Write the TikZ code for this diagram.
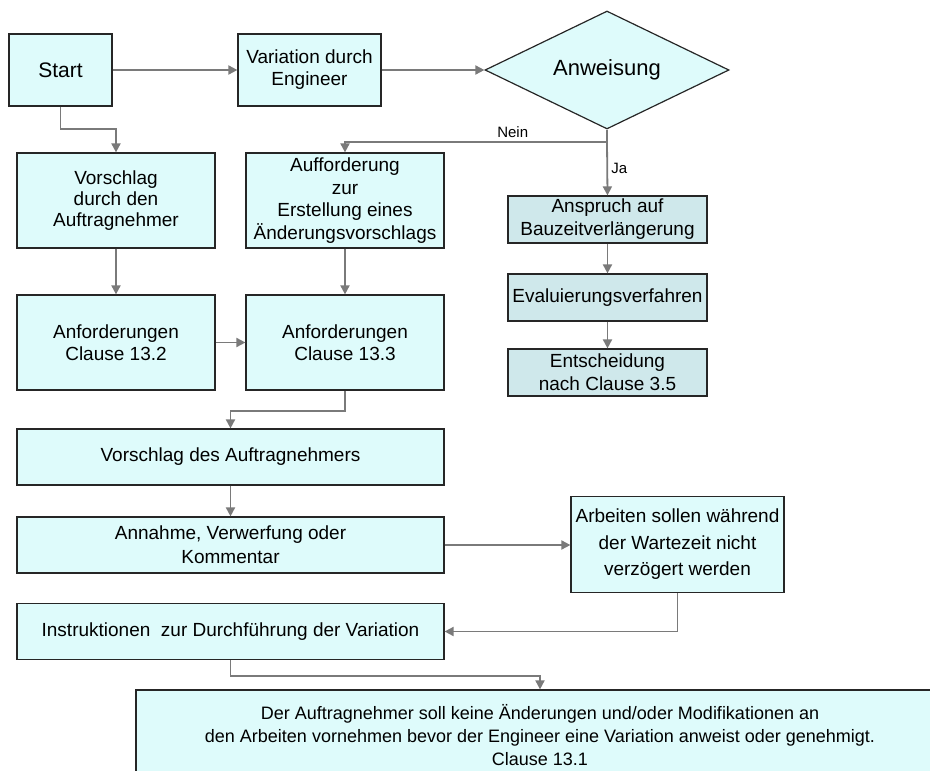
\documentclass[tikz,border=0pt]{standalone}
\usepackage{fontspec}
\setmainfont{Liberation Sans}
\usetikzlibrary{shapes.geometric, arrows.meta, positioning}
\definecolor{boxcyan}{RGB}{222,251,251}
\definecolor{boxgrey}{RGB}{207,232,235}
\definecolor{linegrey}{RGB}{122,122,122}
\tikzset{
	flowbox/.style={draw=black!85, line width=1.2pt, fill=boxcyan, inner sep=0pt,
			align=center, font=\fontsize{19}{22}\selectfont}
}
\tikzset{
	greybox/.style={flowbox, fill=boxgrey, minimum width=199, minimum height=47}
}
\tikzset{
	flowarrow/.style={draw=linegrey, line width=1.8pt, -{Triangle[length=9pt,width=9pt]}}
}
\tikzset{
	branchtext/.style={font=\fontsize{15}{18}\selectfont}
}
\begin{document}
\begin{tikzpicture}[x=1pt, y=-1pt]

			\clip (0,0) rectangle (930,771);

			\begin{scope}
				\node[flowbox, minimum width=103, minimum height=72, font=\fontsize{21}{24}\selectfont]
				(start) at (60.5,70) {Start};
				\node[flowbox, minimum width=143, minimum height=72]
				(variation) at (309.5,70) {Variation durch\\Engineer};
				\node[flowbox, diamond, aspect=2.07, minimum width=244, minimum height=118,
					font=\fontsize{22}{26}\selectfont]
				(anweisung) at (607,70) {Anweisung};
			\end{scope}

			\begin{scope}
				\node[flowbox, minimum width=198, minimum height=95, font=\fontsize{19}{21}\selectfont]
				(vorschlag) at (116,200.5) {Vorschlag\\durch den\\Auftragnehmer};
				\node[flowbox, minimum width=198, minimum height=95, font=\fontsize{19}{22.5}\selectfont]
				(aufforderung) at (345,200.5) {Aufforderung\\zur\\Erstellung eines\\Änderungsvorschlags};
				\node[flowbox, minimum width=198, minimum height=95]
				(anf132) at (116,342.5) {Anforderungen\\Clause 13.2};
				\node[flowbox, minimum width=198, minimum height=95]
				(anf133) at (345,342.5) {Anforderungen\\Clause 13.3};
			\end{scope}

			\begin{scope}
				\node[greybox, font=\fontsize{19}{23}\selectfont]
				(anspruch) at (607.5,219.5) {Anspruch auf\\Bauzeitverlängerung};
				\node[greybox]
				(evaluierung) at (607.5,297.5) {Evaluierungsverfahren};
				\node[greybox, font=\fontsize{19}{23}\selectfont]
				(entscheidung) at (607.5,372.5) {Entscheidung\\nach Clause 3.5};
			\end{scope}

			\begin{scope}
				\node[flowbox, minimum width=427, minimum height=56]
				(vorschlagdes) at (230.5,457) {Vorschlag des Auftragnehmers};
				\node[flowbox, minimum width=427, minimum height=56, font=\fontsize{19}{24}\selectfont]
				(annahme) at (230.5,545) {Annahme, Verwerfung oder\\Kommentar};
				\node[flowbox, minimum width=213, minimum height=96, font=\fontsize{19}{26.5}\selectfont]
				(arbeiten) at (677.5,544.5) {Arbeiten sollen während\\der Wartezeit nicht\\verzögert werden};
				\node[flowbox, minimum width=427, minimum height=56]
				(instruktionen) at (230.5,631.5) {Instruktionen\ \ zur Durchführung der Variation};
				\node[flowbox, minimum width=808, minimum height=90, font=\fontsize{18}{23}\selectfont]
				(hinweis) at (540,735) {Der Auftragnehmer soll keine Änderungen und/oder Modifikationen an\\
					den Arbeiten vornehmen bevor der Engineer eine Variation anweist oder genehmigt.\\
					Clause 13.1};
			\end{scope}

			\draw[flowarrow] (start) -- (variation);
			\draw[flowarrow] (variation) -- (anweisung);
			\draw[flowarrow] (start.south) -- ++(0,22) -| (vorschlag.north);

			\draw[flowarrow] (anweisung.south) -- ++(0,12) coordinate (split)
			-| node[pos=0.18, above, branchtext] {Nein} (aufforderung.north);
			\draw[flowarrow] (split) -- node[right, branchtext] {Ja} (anspruch.north);
			\draw[flowarrow] (anspruch) -- (evaluierung);
			\draw[flowarrow] (evaluierung) -- (entscheidung);

			\draw[flowarrow] (vorschlag) -- (anf132);
			\draw[flowarrow] (aufforderung) -- (anf133);
			\draw[flowarrow] (anf132) -- (anf133);
			\draw[flowarrow] (anf133.south) -- ++(0,20) -| (vorschlagdes.north);
			\draw[flowarrow] (vorschlagdes) -- (annahme);
			\draw[flowarrow] (annahme.east) -- (annahme.east -| arbeiten.west);
			\draw[flowarrow] (arbeiten.south) |- (instruktionen.east);
			\draw[flowarrow] (instruktionen.south) -- ++(0,16) -| (hinweis.north);

		\end{tikzpicture}
\end{document}
